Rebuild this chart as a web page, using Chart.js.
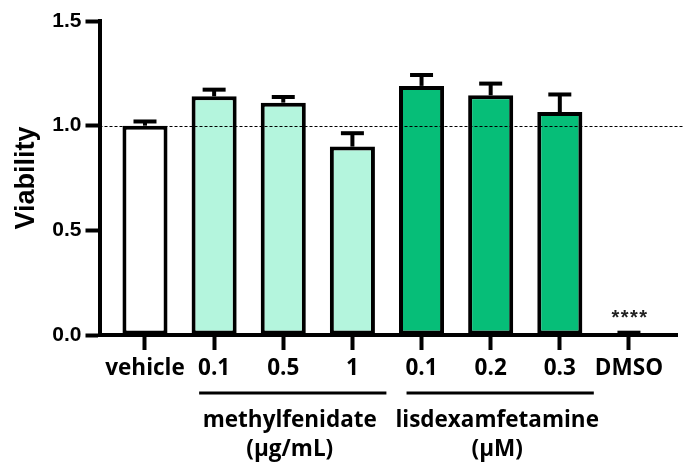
<!DOCTYPE html>
<html><head><meta charset="utf-8">
<script src="https://cdn.jsdelivr.net/npm/chart.js@4.4.0/dist/chart.umd.min.js"></script>
<style>html,body{margin:0;padding:0;background:#fff}#wrap{width:683px;height:466px;position:relative}</style>
</head><body><div id="wrap"><canvas id="c"></canvas></div>
<script>
// ---- data ----
const categories = ['vehicle','0.1','0.5','1','0.1','0.2','0.3','DMSO'];
const groups = ['vehicle','methylfenidate','methylfenidate','methylfenidate','lisdexamfetamine','lisdexamfetamine','lisdexamfetamine','DMSO'];
const viability = [1.00, 1.14, 1.11, 0.90, 1.19, 1.145, 1.065, 0.003];
const sem = [0.02, 0.032, 0.027, 0.064, 0.052, 0.056, 0.084, 0.008];
const significance = ['','','','','','','','****'];
const yTicks = [0, 0.5, 1.0, 1.5];
const referenceLine = 1.0;
const groupBrackets = [
  {lines:['methylfenidate','(µg/mL)'], first:1, last:3},
  {lines:['lisdexamfetamine','(µM)'], first:4, last:6}
];
const groupColors = {vehicle:'#ffffff', methylfenidate:'#b4f5dd', lisdexamfetamine:'#06be78', DMSO:'#ffffff'};

const labelFont = 'bold 22.5px "Open Sans"';

const errorBarPlugin = {
  id:'errorBars',
  afterDatasetsDraw(chart){
    const ctx = chart.ctx, y = chart.scales.y, x = chart.scales.x, ca = chart.chartArea;
    ctx.save();
    ctx.strokeStyle = '#000'; ctx.lineWidth = 1; ctx.setLineDash([3,2]);
    const ry = Math.round(y.getPixelForValue(referenceLine)) + 0.5;
    ctx.beginPath(); ctx.moveTo(ca.left, ry); ctx.lineTo(chart.width, ry); ctx.stroke();
    ctx.restore();
    const meta = chart.getDatasetMeta(0);
    ctx.save();
    ctx.strokeStyle = '#000'; ctx.lineWidth = 4; ctx.lineCap = 'butt';
    meta.data.forEach((bar, i) => {
      const top = y.getPixelForValue(viability[i]);
      const cap = y.getPixelForValue(viability[i] + sem[i]);
      ctx.beginPath(); ctx.moveTo(bar.x, top); ctx.lineTo(bar.x, cap); ctx.stroke();
      ctx.beginPath(); ctx.moveTo(bar.x - 11.5, cap); ctx.lineTo(bar.x + 11.5, cap); ctx.stroke();
      if (significance[i]) {
        ctx.save();
        ctx.fillStyle = '#222'; ctx.font = 'bold 20px "Liberation Sans"';
        ctx.letterSpacing = '1.5px';
        ctx.textAlign = 'center'; ctx.textBaseline = 'alphabetic';
        ctx.fillText(significance[i], bar.x + 1, cap - 8.5);
        ctx.restore();
      }
    });
    ctx.restore();
    ctx.save();
    ctx.fillStyle = '#000'; ctx.strokeStyle = '#000'; ctx.lineWidth = 3;
    ctx.font = labelFont; ctx.textAlign = 'center'; ctx.textBaseline = 'alphabetic';
    groupBrackets.forEach(g => {
      const x1 = x.getPixelForValue(g.first) - 15;
      const x2 = x.getPixelForValue(g.last) + 34;
      ctx.beginPath(); ctx.moveTo(x1, 393); ctx.lineTo(x2, 393); ctx.stroke();
      const cx = (x1 + x2) / 2 - 3;
      ctx.fillText(g.lines[0], cx, 427);
      ctx.fillText(g.lines[1], cx, 456);
    });
    ctx.restore();
  }
};

new Chart(document.getElementById('c'), {
  type: 'bar',
  data: {
    datasets: [{
      data: categories.map((c, i) => ({x: i, y: viability[i]})),
      backgroundColor: groups.map(g => groupColors[g]),
      borderColor: '#000',
      borderWidth: 4,
      borderSkipped: false,
      barPercentage: 0.652,
      categoryPercentage: 1
    }]
  },
  options: {
    responsive: true, maintainAspectRatio: false, animation: false,
    devicePixelRatio: 1,
    layout: {padding: {left: 0, right: 6, top: 21, bottom: 0}},
    plugins: {legend: {display: false}, tooltip: {enabled: false}},
    scales: {
      x: {
        type: 'linear', min: -0.658, max: 7.695, offset: false,
        afterBuildTicks: s => { s.ticks = categories.map((c, i) => ({value: i})); },
        afterFit: s => { s.height = 131; },
        border: {display: true, color: '#000', width: 4},
        grid: {offset: false, drawOnChartArea: false, tickLength: 15, tickWidth: 4, tickColor: '#000'},
        ticks: {
          callback: (v) => categories[v],
          autoSkip: false, maxRotation: 0, padding: 5,
          color: '#000', font: {family: 'Open Sans', weight: 'bold', size: 22.5}
        }
      },
      y: {
        min: 0, max: 1.5,
        afterBuildTicks: s => { s.ticks = yTicks.map(v => ({value: v})); },
        afterFit: s => { s.width = 99.5; },
        border: {display: true, color: '#000', width: 4},
        grid: {drawOnChartArea: false, tickLength: 14, tickWidth: 4, tickColor: '#000'},
        ticks: {
          callback: v => v.toFixed(1), padding: 4,
          color: '#000', font: {family: 'Liberation Sans', weight: 'bold', size: 21}
        },
        title: {display: true, text: 'Viability', color: '#000', padding: {top: 10, bottom: 0},
          font: {family: 'Liberation Sans', weight: 'bold', size: 27}}
      }
    }
  },
  plugins: [errorBarPlugin]
});
</script></body></html>
